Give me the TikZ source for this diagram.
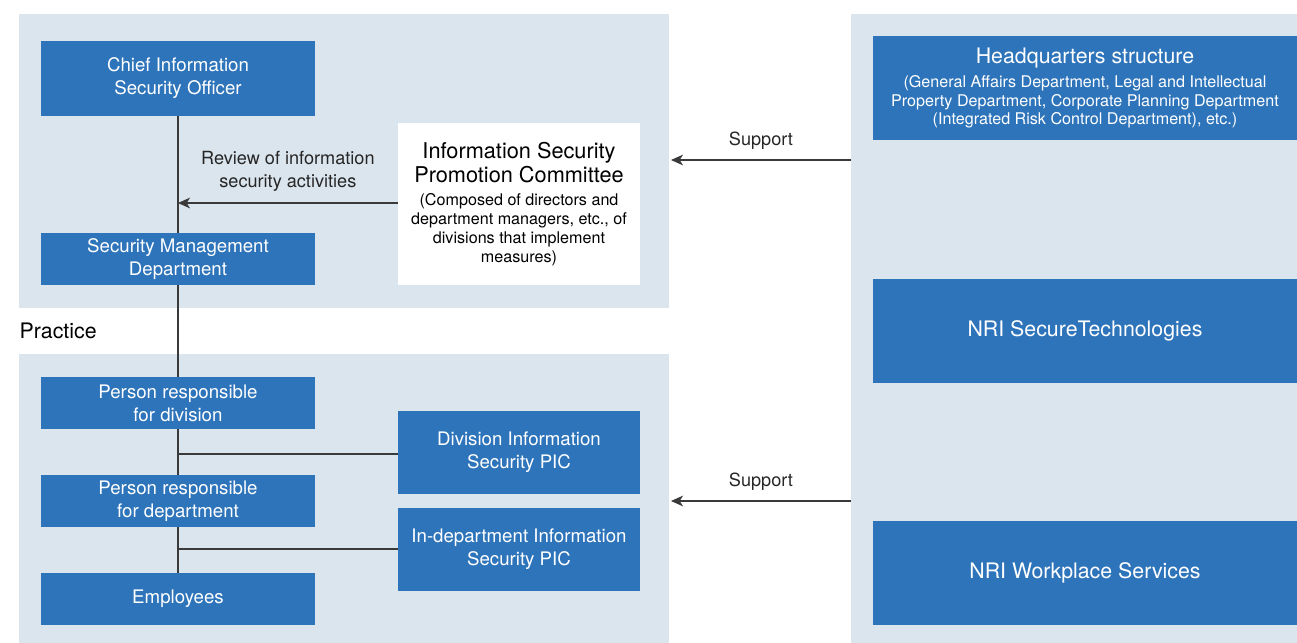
\documentclass[tikz,border=0pt]{standalone}
\usepackage{fontspec}
\setmainfont{TeX Gyre Heros}
\usepackage{tikz}
\usetikzlibrary{arrows.meta}
\definecolor{panelgray}{HTML}{DBE5ED}
\definecolor{boxblue}{HTML}{2E74BA}
\definecolor{linegray}{HTML}{3A3A3A}
\newcommand{\bigtxt}{\fontsize{16}{18}\selectfont}
\newcommand{\smalltxt}{\fontsize{12.1}{14.2}\selectfont}

\begin{document}
\begin{tikzpicture}[x=0.75pt,y=-0.75pt,
  bluebox/.style={fill=boxblue,text=white,align=center,inner sep=0pt,
    minimum width=205.5pt,minimum height=39pt,font=\fontsize{14}{17.2}\selectfont},
  whitebox/.style={fill=white,align=center,inner sep=0pt,
    minimum width=181.5pt,minimum height=121.5pt},
  picbox/.style={bluebox,minimum width=181.5pt,minimum height=62.25pt},
  groupbox/.style={bluebox,minimum width=318pt,minimum height=78pt,font=\bigtxt},
  link/.style={draw=linegray,line width=0.9pt},
  arrowlink/.style={link,-{Stealth[length=9pt,width=8pt,inset=2.5pt]}},
  lbl/.style={text=black!85,align=center,font=\fontsize{13.6}{17}\selectfont}]
  \useasboundingbox (0,0) rectangle (1297,643);
  % panels
  \fill[panelgray] (19,14) rectangle (669,308);
  \fill[panelgray] (19,354) rectangle (669,643);
  \fill[panelgray] (851,14) rectangle (1297,643);
  \node[anchor=west,font=\bigtxt] (practice) at (15,331) {Practice};
  % management side
  \node[bluebox,minimum height=56.25pt] (ciso) at (178,78) {Chief Information\\Security Officer};
  \node[bluebox] (smd) at (178,259) {Security Management\\Department};
  \node[whitebox,font=\fontsize{16.3}{18}\selectfont] (comm) at (519,204) {Information Security\\Promotion Committee\\[-0.5pt]
    \smalltxt (Composed of directors and\\[-3.8pt]\smalltxt department managers, etc., of\\[-3.8pt]\smalltxt divisions that implement\\[-3.8pt]\smalltxt measures)};
  % practice side
  \node[bluebox] (pdiv) at (178,403) {Person responsible\\for division};
  \node[bluebox] (pdept) at (178,501) {Person responsible\\for department};
  \node[bluebox] (emp) at (178,599) {Employees};
  \node[picbox] (divpic) at (519,452.5) {Division Information\\Security PIC};
  \node[picbox] (deptpic) at (519,549.5) {In-department Information\\Security PIC};
  % group companies
  \node[groupbox] (hq) at (1085,88) {Headquarters structure\\[0.5pt]
    \smalltxt (General Affairs Department, Legal and Intellectual\\[-4.1pt]\smalltxt Property Department, Corporate Planning Department\\[-4.1pt]\smalltxt (Integrated Risk Control Department), etc.)};
  \node[groupbox] (nrist) at (1085,331) {NRI SecureTechnologies};
  \node[groupbox] (nriws) at (1085,573) {NRI Workplace Services};
  % lines
  \coordinate (reviewend) at (178,203);
  \coordinate (divjoint) at (178,454);
  \coordinate (deptjoint) at (178,549);
  \draw[link] (ciso) -- (smd);
  \draw[link] (smd) -- (pdiv);
  \draw[link] (pdiv) -- (pdept);
  \draw[link] (pdept) -- (emp);
  \draw[link] (divpic.west |- divjoint) -- (divjoint);
  \draw[link] (deptpic.west |- deptjoint) -- (deptjoint);
  \draw[arrowlink] (comm.west |- reviewend) -- (reviewend)
    node[lbl,midway,above=5pt] (review) {Review of information\\security activities};
  % support arrows
  \coordinate (supa) at (851,160);
  \coordinate (supb) at (851,501);
  \coordinate (supaend) at (671,160);
  \coordinate (supbend) at (671,501);
  \draw[arrowlink] (supa) -- (supaend) node[lbl,midway,above=4pt] (supporta) {Support};
  \draw[arrowlink] (supb) -- (supbend) node[lbl,midway,above=4pt] (supportb) {Support};
\end{tikzpicture}
\end{document}
